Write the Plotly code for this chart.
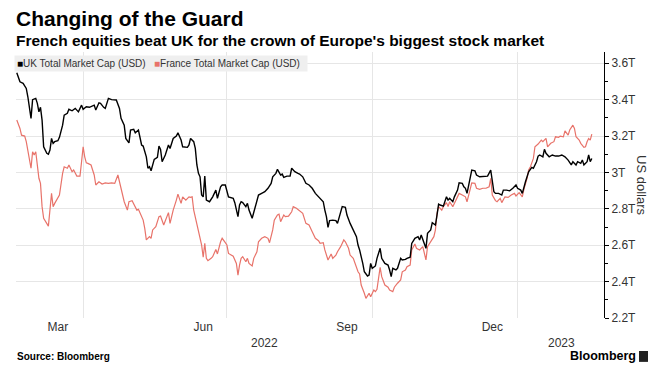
import plotly.graph_objects as go

# ---------------- data (USD trillions) ----------------
uk_dates = [
    "2022-02-18", "2022-02-20", "2022-02-22", "2022-02-24", "2022-02-25", "2022-02-27", "2022-02-28",
    "2022-03-02", "2022-03-03", "2022-03-04", "2022-03-05", "2022-03-06", "2022-03-07", "2022-03-09",
    "2022-03-10", "2022-03-11", "2022-03-12", "2022-03-13", "2022-03-14", "2022-03-16", "2022-03-17",
    "2022-03-19", "2022-03-20", "2022-03-22", "2022-03-23", "2022-03-25", "2022-03-27", "2022-03-29",
    "2022-03-31", "2022-04-01", "2022-04-03", "2022-04-05", "2022-04-08", "2022-04-09", "2022-04-11",
    "2022-04-12", "2022-04-14", "2022-04-15", "2022-04-17", "2022-04-19", "2022-04-22", "2022-04-24",
    "2022-04-25", "2022-04-27", "2022-04-28", "2022-04-30", "2022-05-01", "2022-05-03", "2022-05-04",
    "2022-05-06", "2022-05-08", "2022-05-09", "2022-05-11", "2022-05-12", "2022-05-13", "2022-05-14",
    "2022-05-16", "2022-05-18", "2022-05-19", "2022-05-20", "2022-05-21", "2022-05-23", "2022-05-25",
    "2022-05-26", "2022-05-28", "2022-05-30", "2022-05-31", "2022-06-02", "2022-06-03", "2022-06-06",
    "2022-06-07", "2022-06-08", "2022-06-10", "2022-06-11", "2022-06-12", "2022-06-13", "2022-06-14",
    "2022-06-15", "2022-06-16", "2022-06-17", "2022-06-18", "2022-06-20", "2022-06-22", "2022-06-24",
    "2022-06-25", "2022-06-27", "2022-06-28", "2022-06-30", "2022-07-02", "2022-07-04", "2022-07-05",
    "2022-07-06", "2022-07-08", "2022-07-09", "2022-07-10", "2022-07-11", "2022-07-13", "2022-07-14",
    "2022-07-15", "2022-07-17", "2022-07-18", "2022-07-20", "2022-07-21", "2022-07-23", "2022-07-25",
    "2022-07-27", "2022-07-29", "2022-07-30", "2022-08-01", "2022-08-02", "2022-08-04", "2022-08-05",
    "2022-08-06", "2022-08-08", "2022-08-10", "2022-08-11", "2022-08-13", "2022-08-15", "2022-08-16",
    "2022-08-18", "2022-08-20", "2022-08-22", "2022-08-24", "2022-08-26", "2022-08-27", "2022-08-29",
    "2022-08-31", "2022-09-01", "2022-09-02", "2022-09-03", "2022-09-04", "2022-09-06", "2022-09-08",
    "2022-09-09", "2022-09-11", "2022-09-12", "2022-09-14", "2022-09-15", "2022-09-17", "2022-09-19",
    "2022-09-20", "2022-09-21", "2022-09-22", "2022-09-23", "2022-09-25", "2022-09-26", "2022-09-28",
    "2022-09-29", "2022-09-30", "2022-10-01", "2022-10-03", "2022-10-04", "2022-10-06", "2022-10-07",
    "2022-10-09", "2022-10-11", "2022-10-12", "2022-10-13", "2022-10-14", "2022-10-16", "2022-10-17",
    "2022-10-19", "2022-10-20", "2022-10-22", "2022-10-23", "2022-10-25", "2022-10-26", "2022-10-28",
    "2022-10-30", "2022-10-31", "2022-11-01", "2022-11-03", "2022-11-04", "2022-11-05", "2022-11-07",
    "2022-11-08", "2022-11-10", "2022-11-11", "2022-11-12", "2022-11-13", "2022-11-15", "2022-11-17",
    "2022-11-18", "2022-11-19", "2022-11-21", "2022-11-22", "2022-11-24", "2022-11-25", "2022-11-27",
    "2022-11-28", "2022-11-29", "2022-11-30", "2022-12-02", "2022-12-03", "2022-12-05", "2022-12-06",
    "2022-12-08", "2022-12-10", "2022-12-11", "2022-12-13", "2022-12-15", "2022-12-16", "2022-12-17",
    "2022-12-18", "2022-12-20", "2022-12-22", "2022-12-23", "2022-12-25", "2022-12-27", "2022-12-29",
    "2022-12-31", "2023-01-01", "2023-01-03", "2023-01-04", "2023-01-05", "2023-01-06", "2023-01-08",
    "2023-01-10", "2023-01-11", "2023-01-13", "2023-01-14", "2023-01-15", "2023-01-17", "2023-01-18",
    "2023-01-19", "2023-01-21", "2023-01-23", "2023-01-25", "2023-01-27", "2023-01-29", "2023-01-31",
    "2023-02-02", "2023-02-04", "2023-02-05", "2023-02-07", "2023-02-08", "2023-02-10", "2023-02-11",
    "2023-02-12", "2023-02-14", "2023-02-15", "2023-02-16", "2023-02-17",
]
uk_values = [
    3.548, 3.498, 3.490, 3.462, 3.416, 3.297, 3.400,
    3.407, 3.380, 3.333, 3.358, 3.288, 3.141, 3.105,
    3.100, 3.123, 3.187, 3.160, 3.169, 3.174, 3.193,
    3.260, 3.315, 3.325, 3.347, 3.339, 3.352, 3.333,
    3.370, 3.347, 3.361, 3.358, 3.370, 3.343, 3.383,
    3.380, 3.358, 3.352, 3.407, 3.400, 3.398, 3.352,
    3.297, 3.260, 3.187, 3.163, 3.233, 3.237, 3.218,
    3.233, 3.151, 3.145, 3.086, 3.023, 3.031, 3.009,
    3.072, 3.083, 3.145, 3.127, 3.059, 3.096, 3.151,
    3.132, 3.187, 3.200, 3.218, 3.178, 3.141, 3.138,
    3.151, 3.187, 3.169, 3.132, 3.041, 2.995, 2.976,
    2.876, 2.866, 2.980, 2.848, 2.839, 2.866, 2.903,
    2.858, 2.921, 2.931, 2.931, 2.866, 2.858, 2.858,
    2.834, 2.757, 2.821, 2.839, 2.834, 2.812, 2.830,
    2.793, 2.748, 2.784, 2.839, 2.876, 2.885, 2.894,
    2.913, 2.940, 2.976, 2.995, 3.017, 2.986, 2.991,
    2.973, 2.980, 2.980, 3.023, 3.004, 2.995, 2.991,
    2.976, 2.940, 2.931, 2.913, 2.885, 2.876, 2.858,
    2.839, 2.793, 2.757, 2.698, 2.735, 2.738, 2.735,
    2.720, 2.775, 2.812, 2.808, 2.766, 2.720, 2.684,
    2.674, 2.647, 2.601, 2.574, 2.500, 2.454, 2.431,
    2.436, 2.500, 2.473, 2.486, 2.528, 2.583, 2.528,
    2.500, 2.491, 2.464, 2.427, 2.473, 2.464, 2.473,
    2.528, 2.519, 2.522, 2.528, 2.534, 2.610, 2.638,
    2.647, 2.629, 2.656, 2.610, 2.583, 2.665, 2.684,
    2.724, 2.711, 2.766, 2.826, 2.821, 2.815, 2.866,
    2.848, 2.858, 2.839, 2.866, 2.903, 2.943, 2.940,
    2.921, 2.913, 2.885, 2.968, 3.013, 3.009, 2.986,
    2.976, 2.976, 2.976, 2.980, 3.013, 2.940, 2.894,
    2.885, 2.885, 2.876, 2.903, 2.903, 2.899, 2.913,
    2.931, 2.913, 2.903, 2.885, 2.921, 2.949, 3.004,
    3.028, 3.023, 3.059, 3.090, 3.096, 3.086, 3.127,
    3.105, 3.086, 3.096, 3.090, 3.090, 3.096, 3.086,
    3.068, 3.041, 3.059, 3.041, 3.059, 3.050, 3.068,
    3.041, 3.059, 3.096, 3.059, 3.077,
]

fr_dates = [
    "2022-02-18", "2022-02-20", "2022-02-21", "2022-02-23", "2022-02-24", "2022-02-25", "2022-02-27",
    "2022-02-28", "2022-03-01", "2022-03-02", "2022-03-03", "2022-03-04", "2022-03-05", "2022-03-06",
    "2022-03-07", "2022-03-09", "2022-03-10", "2022-03-12", "2022-03-13", "2022-03-14", "2022-03-16",
    "2022-03-17", "2022-03-19", "2022-03-20", "2022-03-22", "2022-03-23", "2022-03-25", "2022-03-26",
    "2022-03-28", "2022-03-30", "2022-03-31", "2022-04-01", "2022-04-02", "2022-04-03", "2022-04-04",
    "2022-04-06", "2022-04-08", "2022-04-09", "2022-04-11", "2022-04-13", "2022-04-15", "2022-04-17",
    "2022-04-19", "2022-04-21", "2022-04-23", "2022-04-24", "2022-04-25", "2022-04-27", "2022-04-29",
    "2022-04-30", "2022-05-02", "2022-05-03", "2022-05-05", "2022-05-06", "2022-05-08", "2022-05-09",
    "2022-05-10", "2022-05-11", "2022-05-13", "2022-05-14", "2022-05-15", "2022-05-17", "2022-05-19",
    "2022-05-20", "2022-05-22", "2022-05-23", "2022-05-25", "2022-05-26", "2022-05-28", "2022-05-30",
    "2022-05-31", "2022-06-02", "2022-06-03", "2022-06-05", "2022-06-07", "2022-06-08", "2022-06-09",
    "2022-06-10", "2022-06-12", "2022-06-13", "2022-06-15", "2022-06-16", "2022-06-17", "2022-06-18",
    "2022-06-19", "2022-06-21", "2022-06-22", "2022-06-24", "2022-06-25", "2022-06-27", "2022-06-28",
    "2022-06-30", "2022-07-01", "2022-07-02", "2022-07-04", "2022-07-05", "2022-07-07", "2022-07-08",
    "2022-07-09", "2022-07-10", "2022-07-11", "2022-07-13", "2022-07-14", "2022-07-15", "2022-07-17",
    "2022-07-18", "2022-07-20", "2022-07-21", "2022-07-23", "2022-07-25", "2022-07-27", "2022-07-28",
    "2022-07-30", "2022-07-31", "2022-08-02", "2022-08-03", "2022-08-04", "2022-08-06", "2022-08-07",
    "2022-08-09", "2022-08-11", "2022-08-12", "2022-08-14", "2022-08-15", "2022-08-17", "2022-08-18",
    "2022-08-20", "2022-08-22", "2022-08-24", "2022-08-26", "2022-08-28", "2022-08-29", "2022-08-31",
    "2022-09-01", "2022-09-03", "2022-09-05", "2022-09-06", "2022-09-08", "2022-09-09", "2022-09-11",
    "2022-09-13", "2022-09-14", "2022-09-16", "2022-09-17", "2022-09-19", "2022-09-20", "2022-09-22",
    "2022-09-23", "2022-09-24", "2022-09-26", "2022-09-27", "2022-09-29", "2022-09-30", "2022-10-02",
    "2022-10-03", "2022-10-04", "2022-10-06", "2022-10-07", "2022-10-09", "2022-10-11", "2022-10-12",
    "2022-10-14", "2022-10-15", "2022-10-17", "2022-10-19", "2022-10-20", "2022-10-22", "2022-10-23",
    "2022-10-25", "2022-10-26", "2022-10-28", "2022-10-29", "2022-10-31", "2022-11-02", "2022-11-03",
    "2022-11-04", "2022-11-05", "2022-11-07", "2022-11-09", "2022-11-10", "2022-11-11", "2022-11-12",
    "2022-11-14", "2022-11-15", "2022-11-17", "2022-11-18", "2022-11-19", "2022-11-21", "2022-11-22",
    "2022-11-24", "2022-11-25", "2022-11-27", "2022-11-29", "2022-11-30", "2022-12-02", "2022-12-03",
    "2022-12-05", "2022-12-06", "2022-12-08", "2022-12-10", "2022-12-12", "2022-12-14", "2022-12-15",
    "2022-12-16", "2022-12-18", "2022-12-19", "2022-12-21", "2022-12-22", "2022-12-24", "2022-12-26",
    "2022-12-28", "2022-12-30", "2022-12-31", "2023-01-02", "2023-01-04", "2023-01-05", "2023-01-07",
    "2023-01-08", "2023-01-09", "2023-01-11", "2023-01-12", "2023-01-14", "2023-01-16", "2023-01-17",
    "2023-01-19", "2023-01-20", "2023-01-22", "2023-01-24", "2023-01-25", "2023-01-27", "2023-01-28",
    "2023-01-30", "2023-01-31", "2023-02-02", "2023-02-03", "2023-02-05", "2023-02-06", "2023-02-07",
    "2023-02-09", "2023-02-10", "2023-02-12", "2023-02-13", "2023-02-14", "2023-02-15", "2023-02-16",
    "2023-02-17",
]
fr_values = [
    3.288, 3.242, 3.205, 3.200, 3.169, 3.123, 3.023,
    3.114, 3.096, 3.114, 3.050, 2.968, 2.940, 2.812,
    2.748, 2.720, 2.705, 2.885, 2.812, 2.830, 2.866,
    2.876, 2.995, 3.031, 3.023, 3.041, 3.004, 3.013,
    2.980, 2.980, 3.059, 3.141, 3.086, 3.053, 3.050,
    3.041, 2.986, 2.931, 2.949, 2.936, 2.943, 2.940,
    2.943, 2.940, 2.986, 2.949, 2.903, 2.839, 2.793,
    2.839, 2.845, 2.830, 2.793, 2.797, 2.757, 2.738,
    2.693, 2.629, 2.647, 2.638, 2.684, 2.702, 2.757,
    2.760, 2.711, 2.738, 2.779, 2.720, 2.793, 2.848,
    2.881, 2.830, 2.866, 2.848, 2.866, 2.863, 2.866,
    2.793, 2.711, 2.669, 2.601, 2.534, 2.610, 2.528,
    2.515, 2.528, 2.537, 2.577, 2.552, 2.619, 2.638,
    2.614, 2.601, 2.555, 2.546, 2.540, 2.500, 2.436,
    2.491, 2.528, 2.537, 2.509, 2.528, 2.500, 2.486,
    2.528, 2.564, 2.619, 2.638, 2.647, 2.638, 2.614,
    2.684, 2.738, 2.766, 2.771, 2.729, 2.766, 2.757,
    2.760, 2.784, 2.812, 2.803, 2.797, 2.784, 2.775,
    2.720, 2.711, 2.674, 2.638, 2.625, 2.610, 2.614,
    2.574, 2.519, 2.552, 2.528, 2.546, 2.564, 2.592,
    2.629, 2.619, 2.583, 2.546, 2.528, 2.500, 2.454,
    2.442, 2.381, 2.336, 2.308, 2.336, 2.317, 2.354,
    2.345, 2.358, 2.479, 2.427, 2.381, 2.369, 2.354,
    2.345, 2.369, 2.391, 2.409, 2.454, 2.464, 2.482,
    2.491, 2.574, 2.607, 2.583, 2.574, 2.592, 2.546,
    2.519, 2.592, 2.619, 2.647, 2.684, 2.775, 2.812,
    2.793, 2.812, 2.834, 2.812, 2.839, 2.812, 2.830,
    2.858, 2.885, 2.876, 2.866, 2.839, 2.903, 2.943,
    2.940, 2.913, 2.907, 2.913, 2.913, 2.921, 2.968,
    2.876, 2.845, 2.839, 2.858, 2.834, 2.866, 2.863,
    2.876, 2.885, 2.871, 2.889, 2.866, 2.907, 2.968,
    3.013, 3.028, 3.077, 3.141, 3.156, 3.178, 3.169,
    3.187, 3.141, 3.160, 3.169, 3.196, 3.193, 3.200,
    3.196, 3.229, 3.205, 3.233, 3.260, 3.242, 3.196,
    3.178, 3.160, 3.138, 3.141, 3.169, 3.187, 3.178,
    3.211,
]

series_names = ["UK Total Market Cap (USD)", "France Total Market Cap (USD)"]

y_tickvals = [2.2, 2.4, 2.6, 2.8, 3.0, 3.2, 3.4, 3.6]
y_ticktext = ["2.2T", "2.4T", "2.6T", "2.8T", "3T", "3.2T", "3.4T", "3.6T"]
y_minor_ticks = [2.3, 2.5, 2.7, 2.9, 3.1, 3.3, 3.5]

month_tickvals = ["2022-03-16", "2022-06-16", "2022-09-15", "2022-12-16"]
month_ticktext = ["Mar", "Jun", "Sep", "Dec"]
quarter_starts = ["2022-04-01", "2022-07-01", "2022-10-01", "2023-01-01"]
year_labels = ["2022", "2023"]
year_centers = ["2022-07-25", "2023-01-29"]

# ---------------- styling ----------------
UK_COLOR = "#000000"
FR_COLOR = "#e8736a"
GRID = "#e6e6e6"
TXT = "#333333"
FONT = "Liberation Sans, Arial, sans-serif"

fig = go.Figure()
fig.add_trace(go.Scatter(x=fr_dates, y=fr_values, mode="lines", name=series_names[1],
                         line=dict(color=FR_COLOR, width=1.2), showlegend=False))
fig.add_trace(go.Scatter(x=uk_dates, y=uk_values, mode="lines", name=series_names[0],
                         line=dict(color=UK_COLOR, width=1.4), showlegend=False))

fig.update_layout(
    width=662, height=380,
    margin=dict(l=16, r=58, t=52, b=62),
    paper_bgcolor="white", plot_bgcolor="white",
    font=dict(family=FONT, color=TXT, size=12),
    showlegend=False,
    xaxis=dict(
        type="date",
        range=["2022-02-17 12:00", "2023-02-24 17:00"],
        tickmode="array", tickvals=month_tickvals, ticktext=month_ticktext,
        showgrid=False, ticks="", showline=False, zeroline=False,
        tickfont=dict(size=12, color=TXT),
        minor=dict(tickmode="array", tickvals=quarter_starts, showgrid=True,
                   gridcolor=GRID, gridwidth=1, ticks=""),
    ),
    yaxis=dict(
        side="right",
        range=[2.2, 3.662],
        tickmode="array", tickvals=y_tickvals, ticktext=y_ticktext,
        showgrid=True, gridcolor=GRID, gridwidth=1,
        ticks="outside", ticklen=4, tickcolor="#000", tickwidth=1,
        showline=True, linecolor="#000", linewidth=1, zeroline=False,
        tickfont=dict(size=12, color=TXT),
        minor=dict(tickmode="array", tickvals=y_minor_ticks, ticks="outside",
                   ticklen=3, tickcolor="#000", tickwidth=1, showgrid=False),
    ),
)

annotations = [
    dict(text="<b>Changing of the Guard</b>", xref="paper", yref="paper", x=0, y=1,
         xanchor="left", yanchor="middle", xshift=-2, yshift=34, showarrow=False,
         font=dict(size=21, color="#000", family=FONT)),
    dict(text="<b>French equities beat UK for the crown of Europe's biggest stock market</b>",
         xref="paper", yref="paper", x=0, y=1, xanchor="left", yanchor="middle",
         xshift=-2, yshift=12, showarrow=False,
         font=dict(size=15.5, color="#000", family=FONT)),
    dict(text=(f"<span style='color:{UK_COLOR}'>■</span>{series_names[0]}   "
               f"<span style='color:{FR_COLOR}'>■</span>{series_names[1]}  "),
         xref="paper", yref="paper", x=0, y=1, xanchor="left", yanchor="top",
         xshift=-2, yshift=-3, showarrow=False, bgcolor="#efefef", borderpad=2,
         font=dict(size=10, color=TXT, family=FONT)),
    dict(text="US dollars", xref="paper", yref="paper", x=1, y=0.5, xanchor="center",
         yanchor="middle", xshift=38, showarrow=False, textangle=90,
         font=dict(size=13, color=TXT, family=FONT)),
    dict(text="<b>Source: Bloomberg</b>", xref="paper", yref="paper", x=0, y=0,
         xanchor="left", yanchor="middle", xshift=-1, yshift=-38, showarrow=False,
         font=dict(size=10, color="#000", family=FONT)),
    dict(text="<b>Bloomberg</b>", xref="paper", yref="paper", x=0.939, y=0,
         xanchor="left", yanchor="middle", yshift=-38, showarrow=False,
         font=dict(size=12.5, color="#000", family=FONT)),
]
for lbl, ctr in zip(year_labels, year_centers):
    annotations.append(dict(text=lbl, xref="x", yref="paper", x=ctr, y=0,
                            xanchor="center", yanchor="middle", yshift=-25,
                            showarrow=False, font=dict(size=12, color=TXT, family=FONT)))
fig.update_layout(annotations=annotations)

# small logo mark next to "Bloomberg"
fig.add_shape(type="rect", xref="paper", yref="paper",
              x0=1.0595, x1=1.0748, y0=-0.165, y1=-0.124,
              fillcolor="#222", line=dict(width=0))

# remove the default 8px page margin so the figure fills the window exactly
fig.write_html(
    "out.html",
    config={"displayModeBar": False},
    post_script="document.body.style.margin='0';document.documentElement.style.overflow='hidden';",
)
